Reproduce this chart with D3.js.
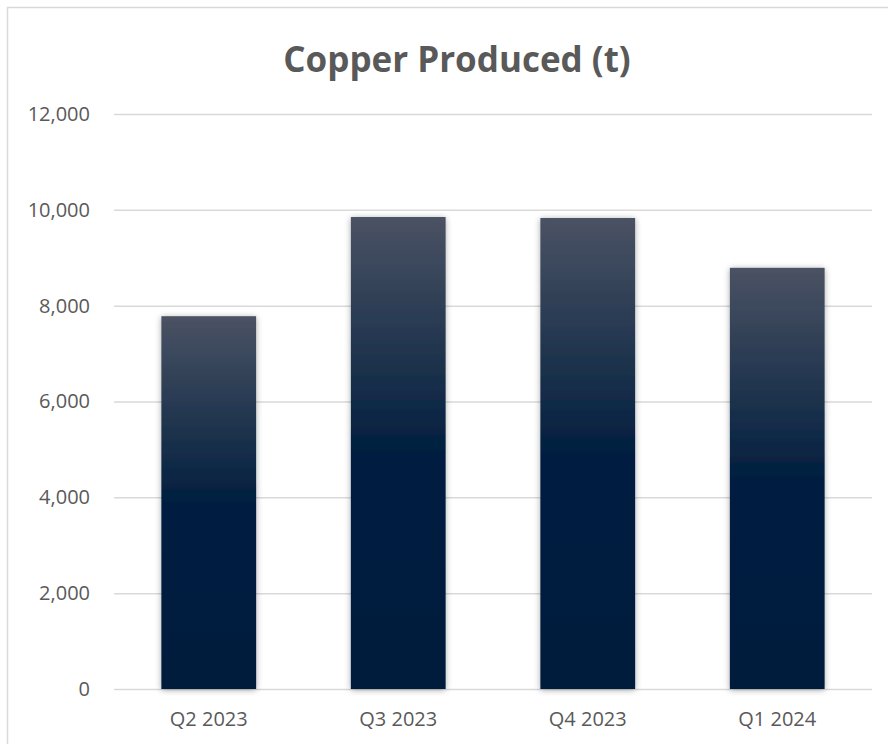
<!DOCTYPE html>
<html>
<head>
<meta charset="utf-8">
<script src="https://cdn.jsdelivr.net/npm/d3@7"></script>
<style>
  body { margin: 0; background: #fff; }
  text { font-family: "Open Sans", sans-serif; fill: #595959; }
</style>
</head>
<body>
<script>
const categories = ["Q2 2023", "Q3 2023", "Q4 2023", "Q1 2024"];
const copper = [7780, 9850, 9830, 8790];
const yTicks = [0, 2000, 4000, 6000, 8000, 10000, 12000];

const W = 888, H = 744;
const margin = {top: 114, right: 16, bottom: 55, left: 114};
const width = W - margin.left - margin.right,
      height = H - margin.top - margin.bottom;

const svg = d3.select("body").append("svg")
    .attr("width", W)
    .attr("height", H);

const defs = svg.append("defs");
const grad = defs.append("linearGradient")
    .attr("id", "barGrad")
    .attr("x1", 0).attr("y1", 0).attr("x2", 0).attr("y2", 1);
grad.append("stop").attr("offset", "0%").attr("stop-color", "#4a5263");
grad.append("stop").attr("offset", "50%").attr("stop-color", "#011f3f");
grad.append("stop").attr("offset", "100%").attr("stop-color", "#011f3e");

const shadow = defs.append("filter")
    .attr("id", "shadow")
    .attr("x", "-20%").attr("y", "-10%")
    .attr("width", "140%").attr("height", "120%");
shadow.append("feDropShadow")
    .attr("dx", 0).attr("dy", 1)
    .attr("stdDeviation", 3)
    .attr("flood-color", "#000")
    .attr("flood-opacity", 0.35);

// chart border
svg.append("rect")
    .attr("x", 7.5).attr("y", 7.5)
    .attr("width", W + 20).attr("height", H + 20)
    .attr("fill", "none")
    .attr("stroke", "#d9d9d9")
    .attr("stroke-width", 1.5);

svg.append("text")
    .attr("x", 457)
    .attr("y", 72)
    .attr("text-anchor", "middle")
    .style("font-size", "35px")
    .style("font-weight", "bold")
    .text("Copper Produced (t)");

const g = svg.append("g")
    .attr("transform", `translate(${margin.left},${margin.top})`);

const x = d3.scaleBand()
    .domain(categories)
    .range([0, width])
    .paddingInner(0.5)
    .paddingOuter(0.25);

const y = d3.scaleLinear()
    .domain([0, 12000])
    .range([height, 0]);

const yAxis = g.append("g")
    .call(d3.axisLeft(y).tickValues(yTicks).tickSize(-width).tickPadding(24)
        .tickFormat(d3.format(",")));
yAxis.select(".domain").remove();
yAxis.selectAll("line").attr("stroke", "#d9d9d9").attr("stroke-width", 1.5);
yAxis.selectAll("text").style("font-size", "20px").style("fill", "#595959");

g.selectAll(".bar")
    .data(copper)
    .enter().append("rect")
    .attr("class", "bar")
    .attr("x", (d, i) => x(categories[i]))
    .attr("y", d => y(d))
    .attr("width", x.bandwidth())
    .attr("height", d => height - y(d))
    .attr("fill", "url(#barGrad)")
    .attr("filter", "url(#shadow)");

const xAxis = g.append("g")
    .attr("transform", `translate(0,${height})`)
    .call(d3.axisBottom(x).tickSize(0).tickPadding(23));
xAxis.select(".domain").remove();
xAxis.selectAll("text").style("font-size", "20px").style("fill", "#595959");
</script>
</body>
</html>
